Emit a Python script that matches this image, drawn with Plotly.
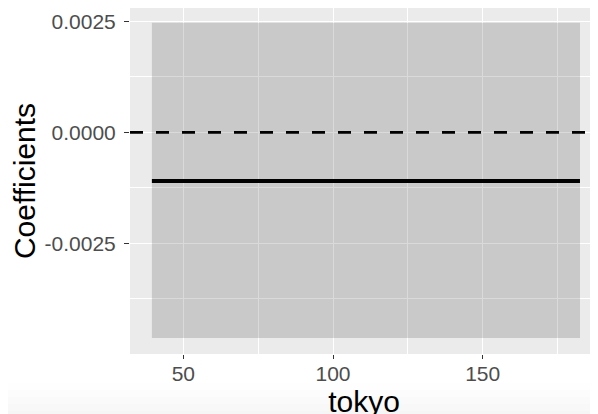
import plotly.graph_objects as go

# Data
tokyo = [39.5, 182.5]
coef = [-0.0011, -0.0011]
lower = [-0.00464, -0.00464]
upper = [0.00247, 0.00247]
zero_line_x = [32.19, 188.52]
zero_line_y = [0.0, 0.0]
x_ticks = [50, 100, 150]
x_minor = [75, 125, 175]
y_ticks = [-0.0025, 0.0, 0.0025]
y_tick_labels = ["-0.0025", "0.0000", "0.0025"]
y_minor = [-0.00375, -0.00125, 0.00125]

FONT = "Liberation Sans, Arial, Helvetica, sans-serif"

fig = go.Figure()

# ribbon
fig.add_trace(go.Scatter(x=tokyo, y=lower, mode="lines", line=dict(width=0),
                         showlegend=False, hoverinfo="skip"))
fig.add_trace(go.Scatter(x=tokyo, y=upper, mode="lines", line=dict(width=0),
                         fill="tonexty", fillcolor="rgba(0,0,0,0.145)",
                         showlegend=False, hoverinfo="skip"))
# zero dashed line
fig.add_trace(go.Scatter(x=zero_line_x, y=zero_line_y, mode="lines",
                         line=dict(color="black", width=2.8, dash="13px,13px"),
                         showlegend=False, hoverinfo="skip", cliponaxis=False))
# coefficient line
fig.add_trace(go.Scatter(x=tokyo, y=coef, mode="lines",
                         line=dict(color="black", width=4),
                         showlegend=False))

# faint grey band at the bottom of the picture
PLOT_H = 346
bands = []
band_cols = ["#FEFEFE", "#FCFCFC", "#FAFAFA", "#F8F8F8", "#F6F6F6"]
for i, c in enumerate(band_cols):
    y1 = -(375 - PLOT_H + i * 7) / PLOT_H
    y0 = -(375 - PLOT_H + (i + 1) * 7) / PLOT_H
    bands.append(dict(type="rect", xref="paper", yref="paper", x0=-0.27, x1=1.02,
                      y0=y0, y1=y1, fillcolor=c, line=dict(width=0), layer="below"))

fig.update_layout(
    width=598, height=414,
    margin=dict(l=122, r=8, t=0, b=414 - PLOT_H),
    paper_bgcolor="white",
    plot_bgcolor="#EBEBEB",
    font=dict(family=FONT),
    shapes=bands,
)

fig.update_xaxes(
    range=[32.19, 188.52],
    tickvals=x_ticks,
    ticks="outside", ticklen=4, tickwidth=1.1, tickcolor="#333333",
    tickfont=dict(size=21, color="#4D4D4D", family=FONT),
    ticklabelstandoff=-3,
    showgrid=True, gridcolor="white", gridwidth=1.1,
    minor=dict(tickvals=x_minor, showgrid=True, gridcolor="white", gridwidth=0.55, ticks=""),
    zeroline=False, showline=False, automargin=False,
    title=dict(text="tokyo", font=dict(size=30, color="black", family=FONT), standoff=2),
)
fig.update_yaxes(
    range=[-0.0050, 0.002804],
    tickvals=y_ticks, ticktext=y_tick_labels,
    ticks="outside", ticklen=5, tickwidth=1.1, tickcolor="#333333",
    tickfont=dict(size=21, color="#4D4D4D", family=FONT),
    ticklabelstandoff=4,
    showgrid=True, gridcolor="white", gridwidth=1.1,
    minor=dict(tickvals=y_minor, showgrid=True, gridcolor="white", gridwidth=0.55, ticks=""),
    zeroline=False, showline=False, automargin=False,
    title=dict(text="Coefficients", font=dict(size=30, color="black", family=FONT), standoff=1),
)

fig.write_html("out.html")
